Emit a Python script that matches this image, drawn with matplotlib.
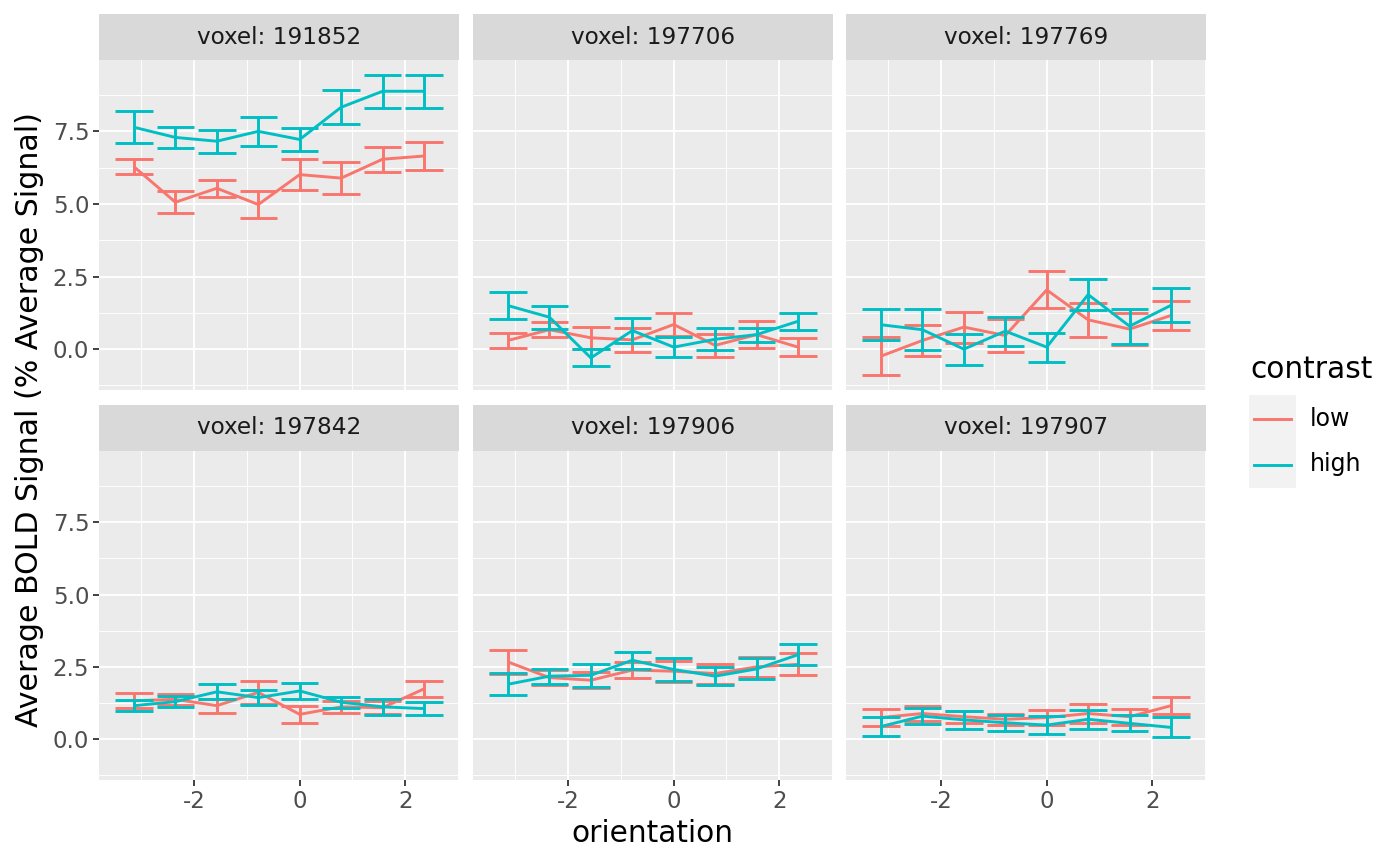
import numpy as np
import matplotlib
matplotlib.use("Agg")
import matplotlib.pyplot as plt
from matplotlib.lines import Line2D
from matplotlib.patches import Rectangle

# ---------------- data ----------------
orientation = np.pi * np.array([-1.0, -0.75, -0.5, -0.25, 0.0, 0.25, 0.5, 0.75])
voxels = ["191852", "197706", "197769", "197842", "197906", "197907"]
contrasts = ["low", "high"]

low_mean = {
    "191852": [6.28, 5.06, 5.54, 4.98, 6.01, 5.89, 6.54, 6.65],
    "197706": [0.30, 0.67, 0.39, 0.32, 0.85, 0.13, 0.50, 0.07],
    "197769": [-0.24, 0.30, 0.76, 0.47, 2.04, 1.01, 0.69, 1.16],
    "197842": [1.33, 1.38, 1.16, 1.62, 0.86, 1.12, 1.09, 1.74],
    "197906": [2.67, 2.13, 2.04, 2.39, 2.35, 2.27, 2.50, 2.59],
    "197907": [0.75, 0.89, 0.78, 0.69, 0.75, 0.89, 0.78, 1.16],
}
low_se = {
    "191852": [0.265, 0.38, 0.30, 0.45, 0.535, 0.545, 0.425, 0.485],
    "197706": [0.27, 0.25, 0.39, 0.42, 0.41, 0.39, 0.475, 0.31],
    "197769": [0.65, 0.525, 0.535, 0.565, 0.64, 0.585, 0.555, 0.515],
    "197842": [0.26, 0.18, 0.24, 0.39, 0.29, 0.20, 0.23, 0.29],
    "197906": [0.40, 0.27, 0.27, 0.27, 0.36, 0.345, 0.355, 0.375],
    "197907": [0.295, 0.27, 0.21, 0.20, 0.25, 0.315, 0.275, 0.30],
}
high_mean = {
    "191852": [7.64, 7.29, 7.16, 7.50, 7.22, 8.33, 8.88, 8.88],
    "197706": [1.50, 1.10, -0.30, 0.64, 0.07, 0.34, 0.50, 0.96],
    "197769": [0.84, 0.67, 0.00, 0.62, 0.07, 1.88, 0.79, 1.51],
    "197842": [1.16, 1.30, 1.64, 1.44, 1.67, 1.28, 1.12, 1.06],
    "197906": [1.90, 2.18, 2.21, 2.73, 2.41, 2.18, 2.43, 2.92],
    "197907": [0.44, 0.80, 0.67, 0.57, 0.49, 0.69, 0.55, 0.41],
}
high_se = {
    "191852": [0.55, 0.375, 0.40, 0.49, 0.385, 0.59, 0.56, 0.56],
    "197706": [0.46, 0.39, 0.29, 0.43, 0.345, 0.38, 0.24, 0.285],
    "197769": [0.53, 0.71, 0.53, 0.50, 0.50, 0.54, 0.60, 0.59],
    "197842": [0.20, 0.19, 0.26, 0.27, 0.29, 0.19, 0.28, 0.215],
    "197906": [0.385, 0.26, 0.40, 0.295, 0.395, 0.31, 0.365, 0.37],
    "197907": [0.32, 0.27, 0.315, 0.275, 0.315, 0.32, 0.275, 0.345],
}
x_ticks = [-2, 0, 2]
y_ticks = [0.0, 2.5, 5.0, 7.5]

colors = {"low": "#F8766D", "high": "#00BFC4"}
means = {"low": low_mean, "high": high_mean}
ses = {"low": low_se, "high": high_se}

# ---------------- figure ----------------
W, H = 1400, 865
fig = plt.figure(figsize=(W / 100, H / 100), dpi=100)
fig.patch.set_facecolor("white")

def frac(x0, y0, x1, y1):
    return [x0 / W, 1 - y1 / H, (x1 - x0) / W, (y1 - y0) / H]

cols = [(99, 459), (473, 833), (846, 1206)]
rows = [(60, 390, 14), (451, 780, 405)]

# limits like ggplot
res = np.min(np.diff(np.sort(orientation)))
ebw = 0.9 * res
xr = (orientation.min() - ebw / 2, orientation.max() + ebw / 2)
xpad = 0.05 * (xr[1] - xr[0])
xlim = (xr[0] - xpad, xr[1] + xpad)
allv = []
for c in contrasts:
    for v in voxels:
        m = np.array(means[c][v]); s = np.array(ses[c][v])
        allv += list(m - s) + list(m + s)
yr = (min(allv), max(allv))
ypad = 0.05 * (yr[1] - yr[0])
ylim = (yr[0] - ypad, yr[1] + ypad)

lw = 2.1
for i, v in enumerate(voxels):
    r, cidx = divmod(i, 3)
    x0, x1 = cols[cidx]
    y0, y1, st = rows[r]
    ax = fig.add_axes(frac(x0, y0, x1, y1))
    ax.set_facecolor("#EBEBEB")
    for sp in ax.spines.values():
        sp.set_visible(False)
    ax.set_xlim(*xlim)
    ax.set_ylim(*ylim)
    ax.set_xticks(x_ticks)
    ax.set_yticks(y_ticks)
    ax.set_xticks([-3, -1, 1, 3], minor=True)
    ax.set_yticks([-1.25, 1.25, 3.75, 6.25, 8.75], minor=True)
    ax.grid(which="major", color="white", linewidth=1.3)
    ax.grid(which="minor", color="white", linewidth=0.65)
    ax.set_axisbelow(True)
    ax.tick_params(which="minor", length=0)
    ax.tick_params(which="major", length=4, width=1.3, color="#333333",
                   labelsize=16.5, labelcolor="#4D4D4D", pad=3)
    ax.set_xticklabels(["-2", "0", "2"])
    ax.set_yticklabels(["0.0", "2.5", "5.0", "7.5"])
    if r == 0:
        ax.tick_params(axis="x", bottom=False, labelbottom=False)
    if cidx != 0:
        ax.tick_params(axis="y", left=False, labelleft=False)
    for c in contrasts:
        m = np.array(means[c][v]); s = np.array(ses[c][v])
        col = colors[c]
        ax.plot(orientation, m, color=col, lw=lw, solid_capstyle="butt", zorder=3)
        ax.vlines(orientation, m - s, m + s, color=col, lw=lw, zorder=3)
        ax.hlines(m - s, orientation - ebw / 2, orientation + ebw / 2, color=col, lw=lw, zorder=3)
        ax.hlines(m + s, orientation - ebw / 2, orientation + ebw / 2, color=col, lw=lw, zorder=3)
    # strip
    sax = fig.add_axes(frac(x0, st, x1, y0))
    sax.set_facecolor("#D9D9D9")
    sax.set_xticks([]); sax.set_yticks([])
    for sp in sax.spines.values():
        sp.set_visible(False)
    sax.text(0.5, 0.5, f"voxel: {v}", ha="center", va="center",
             fontsize=16.7, color="#1A1A1A", transform=sax.transAxes)

# axis titles
fig.text((99 + 1206) / 2 / W, 1 - 834 / H, "orientation", ha="center", va="center",
         fontsize=21.3, color="black")
fig.text(30 / W, 1 - 420 / H, "Average BOLD Signal (% Average Signal)", ha="center",
         va="center", rotation=90, fontsize=21.6, color="black")

# legend
lax = fig.add_axes([0, 0, 1, 1])
lax.set_xlim(0, W); lax.set_ylim(H, 0)
lax.axis("off")
lax.text(1250, 369, "contrast", ha="left", va="center", fontsize=21.3, color="black")
lax.add_patch(Rectangle((1249, 395), 47, 92.5, facecolor="#F2F2F2", edgecolor="none"))
for yy, c in [(418.5, "low"), (464.5, "high")]:
    lax.add_line(Line2D([1254, 1291], [yy, yy], color=colors[c], lw=lw))
    lax.text(1310, yy, c, ha="left", va="center", fontsize=17, color="black")

fig.savefig("out.png", dpi=100)
